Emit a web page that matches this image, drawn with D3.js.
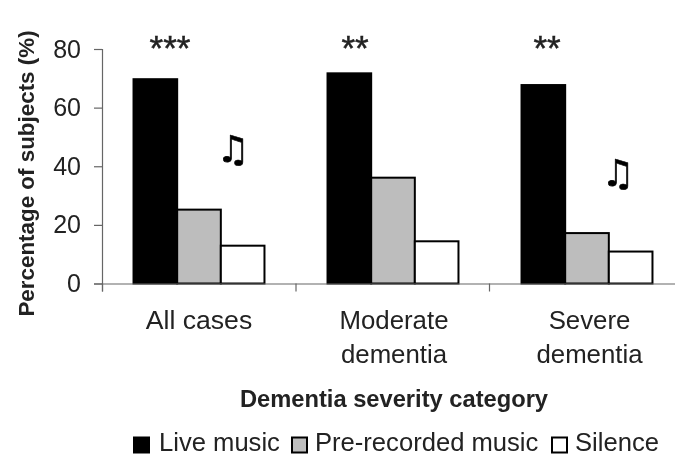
<!DOCTYPE html>
<html>
<head>
<meta charset="utf-8">
<script src="https://cdn.jsdelivr.net/npm/d3@7/dist/d3.min.js"></script>
<style>
	html, body { margin: 0; padding: 0; background: #fff; overflow: hidden; }
	text { font-family: "Liberation Sans", Arial, sans-serif; fill: #222; }
</style>
</head>
<body>
<div id="chart"></div>
<script>
// data
var categories = ["All cases", "Moderate dementia", "Severe dementia"];
var seriesNames = ["Live music", "Pre-recorded music", "Silence"];
var liveMusic = [69.7, 71.7, 67.7];
var preRecorded = [25.2, 36.1, 17.2];
var silence = [12.9, 14.4, 10.9];
var yTicks = [0, 20, 40, 60, 80];
var stars = ["***", "**", "**"];

var seriesValues = [liveMusic, preRecorded, silence];
var seriesFill = ["#000", "#bdbdbd", "#fff"];

// set the specs
var width = 675;
var height = 455;
var marginLeft = 102;
var marginTop = 49;
var axisBottom = 283.5;

// hand placed bits
var starCenter = [170, 355, 547];
var labelCenter = [199, 394, 589.5];
var notePlaces = [[233, 162], [618, 186]];
var legendX = [134, 292, 552];
var legendTextX = [159, 315, 575];

var svg = d3.select("#chart")
	.append("svg")
	.attr("width", width)
	.attr("height", height)
	.style("display", "block")
	.style("filter", "blur(0.5px)");

// scales
var xScale = d3.scaleBand()
	.domain(categories)
	.range([marginLeft, marginLeft + 194 * 3])
	.paddingInner(0.325)
	.paddingOuter(0.1625);

var xInner = d3.scaleBand()
	.domain(d3.range(seriesNames.length))
	.range([0, xScale.bandwidth()]);

var yScale = d3.scaleLinear()
	.domain([0, 80])
	.range([axisBottom, marginTop]);

// bars
categories.forEach(function(cat, c){
	svg.append("g")
		.selectAll("rect")
		.data(seriesValues)
		.enter()
		.append("rect")
		.attr("x", function(d, i){ return xScale(cat) + xInner(i); })
		.attr("y", function(d){ return yScale(d[c]); })
		.attr("width", xInner.bandwidth())
		.attr("height", function(d){ return axisBottom - yScale(d[c]); })
		.attr("fill", function(d, i){ return seriesFill[i]; })
		.attr("stroke", "#000")
		.attr("stroke-width", 2);
});

// axes
var yAxis = d3.axisLeft(yScale)
	.tickValues(yTicks)
	.tickSize(8)
	.tickPadding(13);

var gy = svg.append("g")
	.attr("transform", "translate(" + marginLeft + ",0)")
	.call(yAxis);
gy.selectAll("text")
	.attr("font-size", 25)
	.style("font-family", "Liberation Sans")
	.style("fill", "#222");

var xAxis = d3.axisBottom(d3.scaleLinear().domain([0, 3]).range([marginLeft, marginLeft + 193.5 * 3]))
	.ticks(3)
	.tickSize(8)
	.tickFormat("");

svg.append("g")
	.attr("transform", "translate(0," + axisBottom + ")")
	.call(xAxis);

svg.selectAll(".domain, .tick line").attr("stroke", "#666").attr("stroke-width", 1.2);

// category labels, broken in two lines
categories.forEach(function(cat, c){
	var words = c === 0 ? [cat] : cat.split(" ");
	words.forEach(function(w, i){
		svg.append("text")
			.attr("x", labelCenter[c])
			.attr("y", 329 + i * 34)
			.attr("text-anchor", "middle")
			.attr("font-size", c === 0 ? 26.6 : 25.8)
			.text(w);
	});
});

// significance stars
svg.selectAll(".star")
	.data(stars)
	.enter()
	.append("text")
	.attr("class", "star")
	.attr("x", function(d, i){ return starCenter[i]; })
	.attr("y", 60)
	.attr("text-anchor", "middle")
	.attr("font-size", 35)
	.style("stroke", "#222")
	.style("stroke-width", 0.5)
	.text(function(d){ return d; });

// music notes
notePlaces.forEach(function(p){
	svg.append("text")
		.attr("x", p[0])
		.attr("y", p[1])
		.attr("text-anchor", "middle")
		.attr("font-size", 37)
		.style("font-family", "DejaVu Sans")
		.style("fill", "#000")
		.style("stroke", "#000")
		.style("stroke-width", 0.6)
		.text("\u266B");
});

// axis titles
svg.append("text")
	.attr("transform", "translate(34,173.5) rotate(-90)")
	.attr("text-anchor", "middle")
	.attr("font-size", 22.4)
	.attr("font-weight", "bold")
	.text("Percentage of subjects (%)");

svg.append("text")
	.attr("x", 394)
	.attr("y", 407)
	.attr("text-anchor", "middle")
	.attr("font-size", 23.7)
	.attr("font-weight", "bold")
	.text("Dementia severity category");

// legend
svg.selectAll(".swatch")
	.data(seriesNames)
	.enter()
	.append("rect")
	.attr("class", "swatch")
	.attr("x", function(d, i){ return legendX[i]; })
	.attr("y", 437.5)
	.attr("width", 15)
	.attr("height", 15)
	.attr("fill", function(d, i){ return seriesFill[i]; })
	.attr("stroke", "#000")
	.attr("stroke-width", 2);

svg.selectAll(".legendText")
	.data(seriesNames)
	.enter()
	.append("text")
	.attr("class", "legendText")
	.attr("x", function(d, i){ return legendTextX[i]; })
	.attr("y", 451)
	.attr("font-size", 25.6)
	.text(function(d){ return d; });
</script>
</body>
</html>
